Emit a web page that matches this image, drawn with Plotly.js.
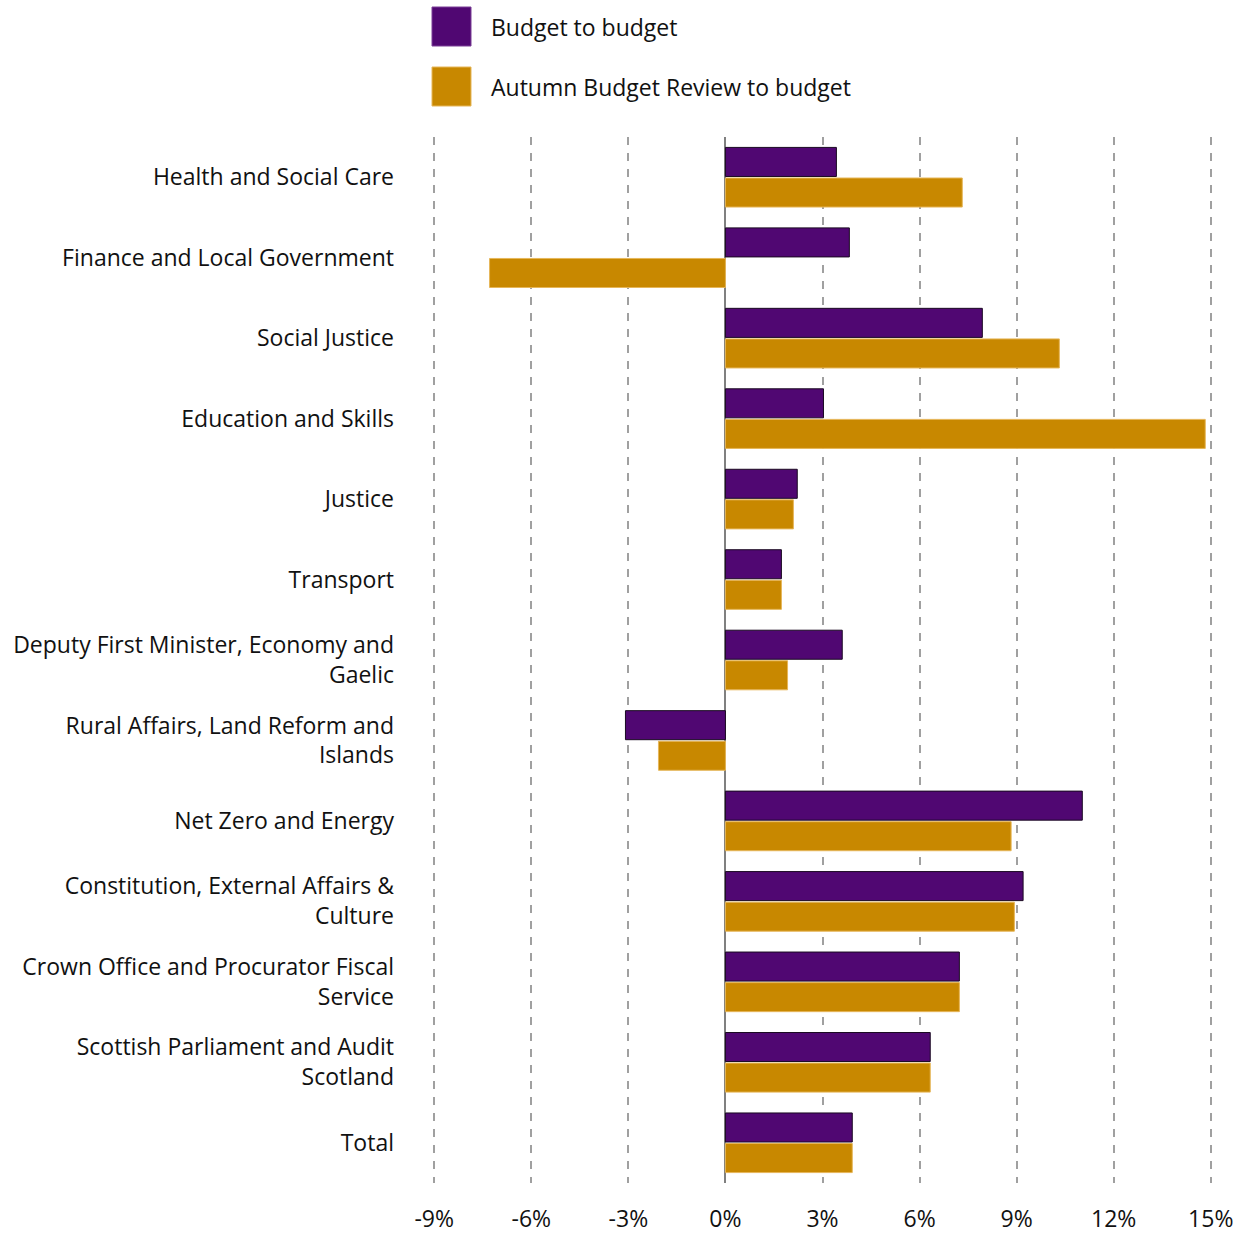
<!DOCTYPE html>
<html>
<head>
<meta charset="utf-8">
<script src="https://cdn.plot.ly/plotly-3.0.1.min.js"></script>
<style>html,body{margin:0;padding:0;background:#fff;}#chart{width:1251px;height:1236px;}</style>
</head>
<body>
<div id="chart"></div>
<script>
const categories = [
  "Health and Social Care",
  "Finance and Local Government",
  "Social Justice",
  "Education and Skills",
  "Justice",
  "Transport",
  "Deputy First Minister, Economy and<br>Gaelic",
  "Rural Affairs, Land Reform and<br>Islands",
  "Net Zero and Energy",
  "Constitution, External Affairs &<br>Culture",
  "Crown Office and Procurator Fiscal<br>Service",
  "Scottish Parliament and Audit<br>Scotland",
  "Total"
];
const budgetToBudget = [3.43, 3.83, 7.94, 3.03, 2.22, 1.73, 3.61, -3.09, 11.03, 9.2, 7.23, 6.33, 3.92];
const autumnToBudget = [7.32, -7.29, 10.32, 14.83, 2.10, 1.73, 1.92, -2.07, 8.83, 8.93, 7.23, 6.33, 3.92];
const seriesNames = ["Budget to budget", "Autumn Budget Review to budget"];
const tickVals = [-9, -6, -3, 0, 3, 6, 9, 12, 15];
const tickText = ["-9%", "-6%", "-3%", "0%", "3%", "6%", "9%", "12%", "15%"];

const FONT = "'Open Sans', Lato, sans-serif";
const FSIZE = 23;
const PURPLE = "#500772";
const GOLD = "#C88800";

const traces = [
  {type: "bar", orientation: "h", name: seriesNames[0], y: categories, x: budgetToBudget,
   marker: {color: PURPLE, line: {color: "#1a0a22", width: 1}}, hoverinfo: "x+y"},
  {type: "bar", orientation: "h", name: seriesNames[1], y: categories, x: autumnToBudget,
   marker: {color: GOLD, line: {color: "#e6b659", width: 1}}, hoverinfo: "x+y"}
];

const ML = 431, MR = 37, MT = 137, MB = 53, W = 1251, H = 1236;
const layout = {
  width: W, height: H,
  margin: {l: ML, r: MR, t: MT, b: MB},
  paper_bgcolor: "#fff", plot_bgcolor: "#fff",
  showlegend: false,
  barmode: "group",
  bargap: 0.24,
  bargroupgap: 0.05,
  font: {family: FONT, size: FSIZE, color: "#111"},
  xaxis: {
    range: [-9.1, 15.1],
    tickvals: tickVals, ticktext: tickText,
    showgrid: true, gridcolor: "#a0a0a0", gridwidth: 2, griddash: "8px,8px",
    zeroline: true, zerolinecolor: "#808080", zerolinewidth: 2,
    showline: false, ticks: "",
    ticklabelstandoff: 20,
    tickfont: {family: FONT, size: FSIZE, color: "#111"},
    fixedrange: true
  },
  yaxis: {
    type: "category",
    autorange: "reversed",
    showgrid: false, zeroline: false, showline: false, ticks: "",
    ticklabelstandoff: 36,
    tickfont: {family: FONT, size: FSIZE, color: "#111"},
    fixedrange: true
  }
};

// Legend drawn in pixel-anchored paper coords
const plotW = W - ML - MR, plotH = H - MT - MB;
function px2paperX(px){ return (px - ML) / plotW; }
function px2paperY(py){ return (H - MB - py) / plotH; }
layout.shapes = [
  {type: "rect", xref: "paper", yref: "paper", x0: px2paperX(432), x1: px2paperX(471), y0: px2paperY(46), y1: px2paperY(7),
   fillcolor: PURPLE, line: {color: "#7a3f96", width: 1}},
  {type: "rect", xref: "paper", yref: "paper", x0: px2paperX(432), x1: px2paperX(471), y0: px2paperY(106), y1: px2paperY(67),
   fillcolor: GOLD, line: {color: "#e6b659", width: 1}}
];
layout.annotations = [
  {xref: "paper", yref: "paper", x: px2paperX(489), y: px2paperY(27), text: seriesNames[0], showarrow: false,
   xanchor: "left", yanchor: "middle", font: {family: FONT, size: 23, color: "#111"}},
  {xref: "paper", yref: "paper", x: px2paperX(489), y: px2paperY(87), text: seriesNames[1], showarrow: false,
   xanchor: "left", yanchor: "middle", font: {family: FONT, size: 23, color: "#111"}}
];

Plotly.newPlot("chart", traces, layout, {displayModeBar: false, staticPlot: true});
</script>
</body>
</html>
